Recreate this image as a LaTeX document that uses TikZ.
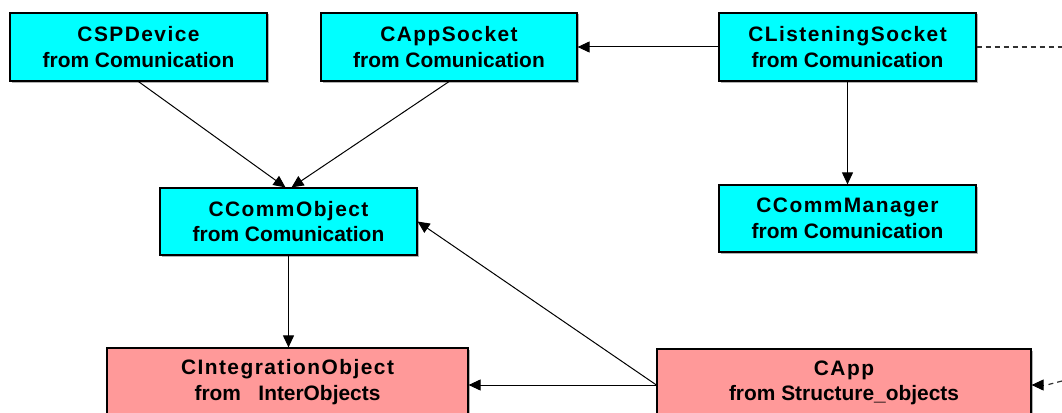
\documentclass[tikz,border=0pt]{standalone}
\usepackage{fontspec}
\setmainfont{Liberation Sans}
\usetikzlibrary{arrows.meta,shadows,calc}
\definecolor{clsCyan}{RGB}{0,255,255}
\definecolor{clsPink}{RGB}{255,153,153}
\definecolor{dashGray}{RGB}{50,50,50}
% class names are set slightly spaced out
\newcommand\clsname[1]{{\addfontfeatures{LetterSpace=7}#1}}
\begin{document}
\begin{tikzpicture}[x=1pt,y=-1pt,
  classbox/.style={draw=black, line width=1.2pt, rectangle, inner sep=0pt,
    minimum height=68pt, align=center,
    font=\fontsize{20.9}{25.7}\selectfont\bfseries,
    drop shadow={shadow xshift=1.5pt, shadow yshift=-1.5pt, fill=gray!60, opacity=1}},
  comclass/.style={classbox, fill=clsCyan},
  extclass/.style={classbox, fill=clsPink},
  tip/.style={-{Triangle[length=12pt,width=11pt]}},
  link/.style={line width=1pt, tip},
  extlink/.style={line width=1.2pt, draw=dashGray, dash pattern=on 5pt off 4pt}
]
\useasboundingbox (0,0) rectangle (1062,412);
\clip (0,0) rectangle (1062,412);

% communication classes
\node[comclass, minimum width=257pt] (dev)    at (138.5,47)  {\clsname{CSPDevice}\\from Comunication};
\node[comclass, minimum width=256pt] (sock)   at (449,47)    {\clsname{CAppSocket}\\from Comunication};
\node[comclass, minimum width=257pt] (listen) at (847.5,47)  {\clsname{CListeningSocket}\\from Comunication};
\node[comclass, minimum width=257pt, minimum height=67pt] (comm) at (288.5,221.5) {\clsname{CCommObject}\\from Comunication};
\node[comclass, minimum width=257pt, minimum height=67pt] (mgr)  at (847.5,218.5) {\clsname{CCommManager}\\from Comunication};

% classes from other packages
\node[extclass, minimum width=361pt] (integ) at (287.5,382) {\clsname{CIntegrationObject}\\from~~~InterObjects};
\node[extclass, minimum width=374pt] (app)   at (844,383)   {\clsname{CApp}\\from Structure\_objects};

% off-page ends of the dashed links
\coordinate (outTop) at (1062,47);
\coordinate (outBot) at (1062,381);
\coordinate (appTipBase) at ([xshift=12pt,yshift=-2pt]app.east);

% relations
\draw[link] (dev.south) -- ([xshift=-3pt]comm.north);
\draw[link] (sock.south) -- ([xshift=3pt]comm.north);
\draw[link] (listen.west) -- (sock.east);
\draw[link] (listen.south) -- (mgr.north);
\draw[link] (comm.south) -- (comm.south |- integ.north);
\draw[link] ([yshift=-2pt]app.west) -- ([yshift=-2pt]app.west -| integ.east);
\draw[link] ([yshift=-2pt]app.west) -- (comm.east);
\draw[extlink] (listen.east) -- (outTop);
\draw[extlink] (outBot) -- ([xshift=3pt]appTipBase);
\draw[link] (appTipBase) -- ([yshift=-2pt]app.east);
\end{tikzpicture}
\end{document}
